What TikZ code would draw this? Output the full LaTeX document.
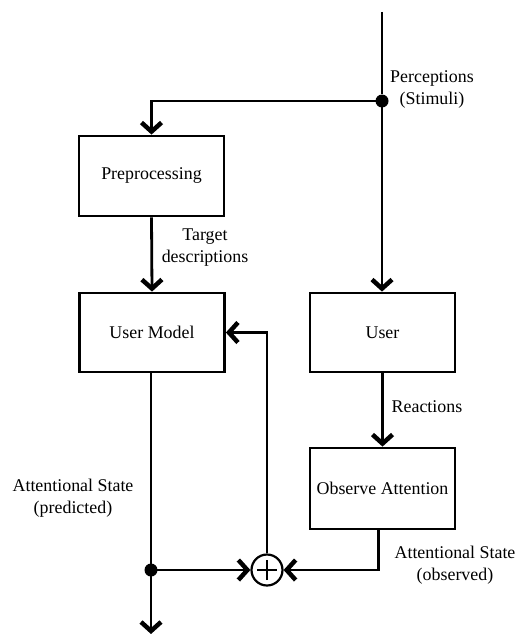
\documentclass[tikz,border=0pt]{standalone}
\usepackage{fontspec}
\setmainfont{Liberation Serif}
\usetikzlibrary{arrows.meta,calc}
\tikzset{
  blk/.style={draw,line width=2.8pt,minimum width=145pt,minimum height=80pt,inner sep=0pt,font=\fontsize{17.9}{22}\selectfont},
  lbl/.style={align=center,inner sep=0pt,font=\fontsize{17.9}{22}\selectfont},
  conn/.style={line width=2.8pt,-{Straight Barb[length=9pt,width=20pt,line width=4.5pt]}},
  wire/.style={line width=2.8pt},
  junction/.style={circle,fill=black,inner sep=0pt,minimum size=13pt},
  summer/.style={circle,draw,line width=2.2pt,minimum size=31pt,inner sep=0pt,
    path picture={\draw[line width=2.2pt] ($(path picture bounding box.center)+(-10pt,0)$) -- ($(path picture bounding box.center)+(10pt,0)$);
                  \draw[line width=2.2pt] ($(path picture bounding box.center)+(0,-10pt)$) -- ($(path picture bounding box.center)+(0,10pt)$);}}
}
\begin{document}
\begin{tikzpicture}[x=1pt,y=-1pt]
\useasboundingbox (0,0) rectangle (519,634);
\node[blk] (pre) at (151.5,176) {Preprocessing};
\node[blk,minimum height=79pt] (um) at (152,332.5) {User Model};
\node[blk,minimum height=79pt] (user) at (382.5,332.5) {User};
\node[blk,minimum height=81pt] (obs) at (382.5,488.5) {Observe Attention};
\node[summer] (plus) at (267,570) {};
\node[junction] (d1) at (382,101) {};
\node[junction] (d2) at (151,570) {};
\coordinate (top) at (382,12);
\coordinate (bot) at (151,634);

\draw[wire] (top) -- (d1);
\draw[conn] (d1.center) -- (user.north -| d1);
\draw[conn] (d1.center) -| (pre.north);
\draw[conn] (pre.south) -- (um.north);
\draw[wire] (um.south -| d2) -- (d2.center);
\draw[conn] (d2.center) -- (bot);
\draw[conn] (d2.center) -- (plus.west);
\draw[conn] ([xshift=-4pt]obs.south) |- (plus.east);
\draw[conn] (plus.north) |- (um.east);
\draw[conn] (user.south) -- (obs.north);

\node[lbl] (perc) at (432,89) {Perceptions\\(Stimuli)};
\node[lbl] (targ) at (205,248) {Target\\descriptions};
\node[lbl] (reac) at (427,407) {Reactions};
\node[lbl] (pred) at (73,498) {Attentional State\\(predicted)};
\node[lbl] (obsl) at (455,565) {Attentional State\\(observed)};
\end{tikzpicture}
\end{document}
